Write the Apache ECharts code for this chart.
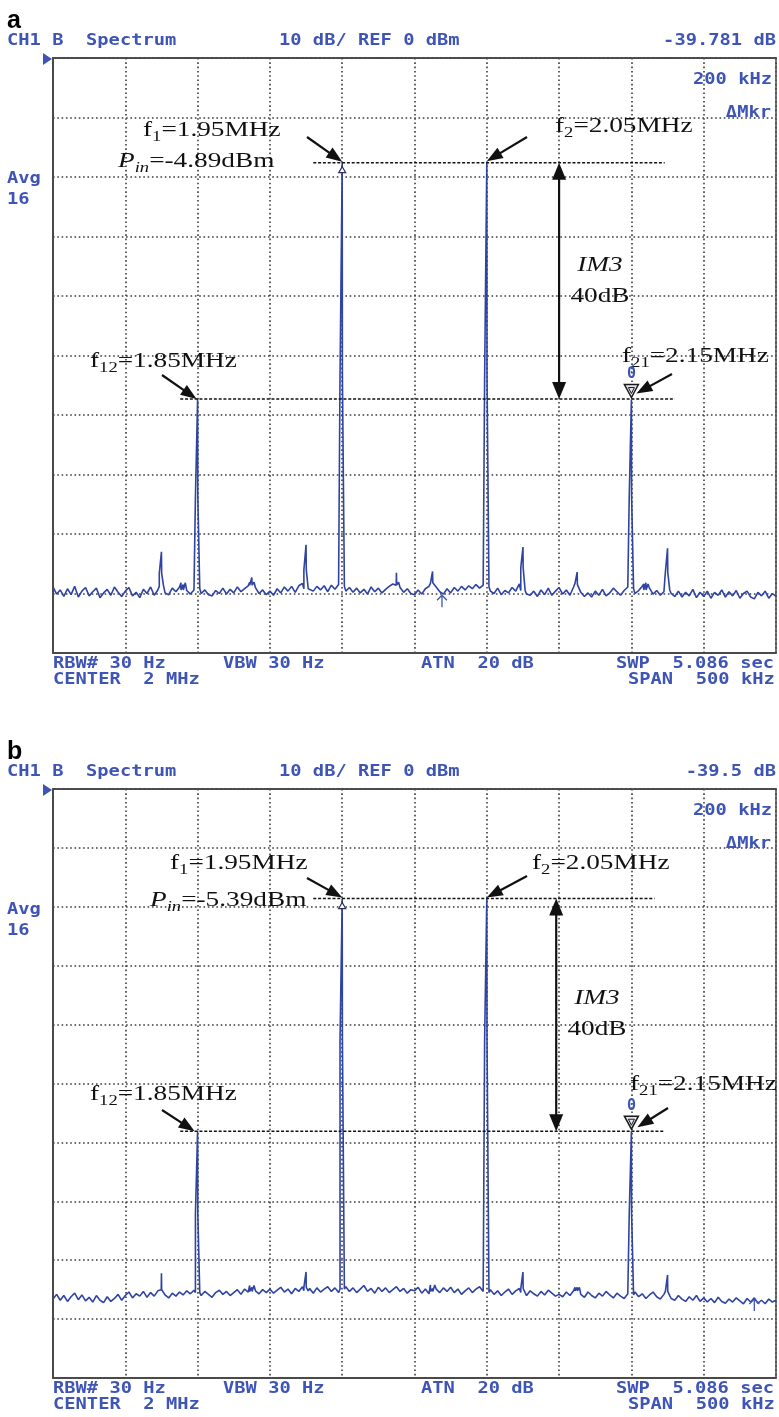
<!DOCTYPE html>
<html>
<head>
<meta charset="utf-8">
<script src="https://cdn.jsdelivr.net/npm/echarts@6/dist/echarts.min.js"></script>
<style>
  html, body { margin: 0; padding: 0; background: #fff; }
  #chart { width: 779px; height: 1417px; }
</style>
</head>
<body>
<div id="chart"></div>
<script>
// ---- Sweep settings: center 2 MHz, span 500 kHz, 2.5 kHz trace bins ----
const SWEEP_START_KHZ = 1750;
const SWEEP_STOP_KHZ = 2250;
const SWEEP_STEP_KHZ = 2.5;
const FREQ_DIV_KHZ = 50;          // 10 divisions across
const REF_LEVEL_DBM = 0;          // 10 dB/div, REF 0 dBm
const BOTTOM_LEVEL_DBM = -100;
const LEVEL_DIV_DB = 10;

// ---- Panel a: averaged noise floor (dBm), one value per bin ----
const noiseA = [
  -88.9,-90.1,-89.4,-90.5,-89.2,-90.2,-88.8,-90.6,-89.6,-89.0,-90.4,-89.7,-89.1,-90.7,-89.9,-89.3,-90.3,-88.9,-89.8,-90.5,
  -89.6,-89.0,-90.4,-89.8,-90.7,-89.3,-90.0,-88.9,-90.3,-89.4,-88.8,-89.9,-90.2,-89.1,-89.7,-88.9,-88.2,-89.5,-90.1,-89.4,
  -89.2,-90.0,-89.4,-90.2,-90.4,-89.5,-90.0,-89.1,-90.1,-89.3,-89.9,-88.9,-89.7,-89.2,-88.7,-88.1,-89.0,-90.0,-89.4,-90.2,
  -89.6,-90.3,-89.2,-89.9,-88.9,-89.6,-88.8,-89.8,-88.7,-88.3,-89.2,-88.9,-89.6,-88.8,-89.4,-88.7,-89.7,-88.6,-89.3,-88.5,
  -88.8,-89.6,-89.0,-89.8,-89.1,-89.9,-89.3,-90.1,-88.9,-89.7,-89.1,-89.9,-89.3,-88.8,-88.4,-88.1,-89.0,-89.8,-89.2,-90.0,
  -90.2,-89.4,-90.1,-89.2,-88.8,-88.3,-88.9,-89.7,-90.1,-89.2,-89.9,-89.0,-89.6,-88.8,-89.4,-88.7,-89.2,-88.5,-89.1,-88.6,
  -88.9,-89.6,-90.0,-89.1,-90.2,-89.5,-89.9,-89.0,-89.6,-88.4,-89.5,-90.1,-90.3,-89.6,-90.5,-89.4,-90.2,-89.1,-90.3,-89.6,
  -89.0,-90.1,-89.4,-90.3,-88.9,-88.3,-89.8,-90.5,-89.9,-90.6,-89.6,-90.3,-89.3,-90.4,-89.9,-89.1,-89.7,-90.3,-89.5,-88.9,
  -89.2,-90.0,-89.5,-88.8,-88.4,-89.1,-90.1,-89.5,-90.3,-89.7,-89.4,-90.0,-90.5,-89.6,-90.6,-89.8,-90.4,-89.3,-90.7,-89.8,
  -90.5,-89.6,-90.8,-89.8,-90.3,-89.4,-90.6,-89.7,-90.4,-89.5,-90.8,-90.0,-89.6,-90.6,-90.9,-89.8,-90.4,-89.6,-90.8,-90.0,-90.5
];
// Discrete tones in panel a: frequency (kHz), peak level and shoulder level (dBm)
const toneFreqA     = [1825, 1840, 1850, 1887.5, 1925, 1950, 1987.5, 2012.5, 2050, 2075, 2112.5, 2150, 2160, 2175];
const tonePeakA     = [-83.0, -88.5, -57.3, -87.3, -81.8, -17.6, -86.5, -86.3, -17.5, -82.2, -86.4, -57.4, -88.2, -82.4];
const toneShoulderA = [-86.6, -89.4, -73.8, -88.6, -86.0, -53.4, -88.6, -88.2, -53.6, -85.7, -88.5, -73.8, -89.4, -86.4];

// ---- Panel b ----
const noiseB = [
  -86.6,-85.8,-86.8,-86.0,-87.0,-86.2,-85.6,-86.7,-85.9,-86.9,-86.3,-87.1,-86.0,-86.8,-87.2,-86.2,-87.0,-86.5,-85.8,-86.8,
  -86.0,-85.4,-86.4,-85.7,-86.1,-85.3,-86.3,-85.5,-86.1,-85.2,-84.9,-85.9,-86.4,-85.6,-86.1,-85.4,-85.9,-85.2,-85.7,-85.1,
  -85.5,-86.0,-85.3,-85.8,-86.3,-85.5,-85.1,-85.8,-85.3,-86.0,-85.5,-85.0,-85.8,-84.9,-85.4,-84.3,-85.2,-85.7,-85.0,-85.5,
  -84.9,-85.6,-85.1,-84.6,-85.4,-84.9,-85.7,-84.8,-85.3,-84.5,-85.2,-84.8,-85.6,-84.7,-85.4,-84.9,-84.5,-85.3,-84.7,-85.5,
  -84.9,-84.5,-85.3,-84.7,-85.5,-84.9,-84.3,-85.3,-84.8,-85.6,-84.6,-85.3,-84.7,-85.5,-85.0,-84.5,-85.3,-84.8,-85.6,-85.0,
  -85.2,-84.6,-85.6,-84.9,-85.7,-84.2,-84.9,-85.5,-84.7,-85.3,-84.6,-85.5,-84.9,-85.8,-85.2,-84.7,-85.5,-84.9,-84.5,-85.3,
  -85.5,-85.0,-85.8,-85.2,-86.0,-85.4,-84.9,-85.8,-85.2,-84.8,-85.5,-86.0,-85.2,-85.7,-86.1,-85.3,-85.9,-85.1,-85.6,-86.1,
  -85.8,-86.2,-85.4,-86.0,-85.2,-84.6,-85.8,-86.3,-85.4,-86.0,-86.4,-85.6,-86.1,-85.3,-85.9,-86.4,-85.6,-86.1,-86.5,-85.7,
  -85.9,-85.4,-86.2,-85.7,-86.5,-85.9,-85.4,-86.2,-86.6,-85.8,-86.0,-86.5,-86.8,-86.0,-86.6,-87.0,-86.2,-86.8,-86.0,-87.0,
  -86.4,-87.1,-86.5,-87.2,-86.3,-87.0,-87.3,-86.6,-87.1,-86.4,-86.9,-87.4,-86.5,-87.1,-86.4,-87.3,-86.8,-87.4,-86.6,-87.1,-86.8
];
const toneFreqB     = [1825, 1850, 1887.5, 1925, 1950, 2012.5, 2050, 2075, 2112.5, 2150, 2175];
const tonePeakB     = [-82.2, -58.1, -84.6, -82.0, -18.6, -84.8, -18.6, -82.0, -84.6, -58.1, -82.5];
const toneShoulderB = [-85.0, -72.2, -85.3, -84.6, -42.5, -85.3, -42.5, -84.8, -85.2, -72.2, -85.3];

// ---- Instrument readouts ----
const headerA = ['CH1 B  Spectrum', '10 dB/ REF 0 dBm', '-39.781 dB'];
const headerB = ['CH1 B  Spectrum', '10 dB/ REF 0 dBm', '-39.5 dB'];
const sideLabels = ['200 kHz', '\u0394Mkr', 'Avg', '16'];
const footerTop = ['RBW# 30 Hz', 'VBW 30 Hz', 'ATN  20 dB', 'SWP  5.086 sec'];
const footerBottom = ['CENTER  2 MHz', 'SPAN  500 kHz'];

// ---- Annotation text ----
const pinTextA = '=-4.89dBm';
const pinTextB = '=-5.39dBm';

// ---- Styling ----
const TRACE = '#2f43a3';
const SCREEN_TEXT = '#3e55b6';
const FRAME = '#4a4a4a';
const GRID_DOT = '#3c3c3c';
const INK = '#111111';
const TONE_HALF_WIDTH_KHZ = 1.5;   // half width of a tone's skirt
const TONE_TIP_KHZ = 0.15;         // half width of a tone's tip

const panels = [
  { grid: { left: 53, top: 58, width: 723, height: 595 } },
  { grid: { left: 53, top: 789, width: 723, height: 589 } }
];

// Noise bins with each tone drawn as a narrow skirt (closed at the shoulder) and a thin tip
function buildTrace(noise, tf, tp, ts) {
  const out = [];
  for (let i = 0; i < noise.length; i++) {
    const f = SWEEP_START_KHZ + i * SWEEP_STEP_KHZ;
    const j = tf.findIndex(t => Math.abs(t - f) < SWEEP_STEP_KHZ / 2);
    if (j < 0) { out.push([f, noise[i]]); continue; }
    const t = tf[j], d = TONE_HALF_WIDTH_KHZ, e = TONE_TIP_KHZ, fl = noise[i];
    out.push([t - d, fl], [t - d, ts[j]], [t - e, ts[j]], [t, tp[j]], [t + e, ts[j]], [t + d, ts[j]], [t + d, fl]);
  }
  return out;
}

const traceA = buildTrace(noiseA, toneFreqA, tonePeakA, toneShoulderA);
const traceB = buildTrace(noiseB, toneFreqB, tonePeakB, toneShoulderB);

const DOT = [1.6, 2.7];
const xAxes = [], yAxes = [];
panels.forEach((p, g) => {
  xAxes.push({
    gridIndex: g, type: 'value', min: SWEEP_START_KHZ, max: SWEEP_STOP_KHZ, interval: FREQ_DIV_KHZ,
    position: 'bottom',
    axisLine: { show: true, onZero: false, lineStyle: { color: FRAME, width: 2 } },
    axisTick: { show: false }, axisLabel: { show: false },
    splitLine: { show: true, lineStyle: { color: GRID_DOT, width: 1.6, type: DOT } }
  });
  xAxes.push({
    gridIndex: g, type: 'value', min: SWEEP_START_KHZ, max: SWEEP_STOP_KHZ, interval: FREQ_DIV_KHZ,
    position: 'top',
    axisLine: { show: true, onZero: false, lineStyle: { color: FRAME, width: 2, type: [3, 1.5] } },
    axisTick: { show: false }, axisLabel: { show: false }, splitLine: { show: false }
  });
  yAxes.push({
    gridIndex: g, type: 'value', min: BOTTOM_LEVEL_DBM, max: REF_LEVEL_DBM, interval: LEVEL_DIV_DB,
    position: 'left',
    axisLine: { show: true, onZero: false, lineStyle: { color: FRAME, width: 2 } },
    axisTick: { show: false }, axisLabel: { show: false },
    splitLine: { show: true, lineStyle: { color: GRID_DOT, width: 1.6, type: DOT } }
  });
  yAxes.push({
    gridIndex: g, type: 'value', min: BOTTOM_LEVEL_DBM, max: REF_LEVEL_DBM, interval: LEVEL_DIV_DB,
    position: 'right',
    axisLine: { show: true, onZero: false, lineStyle: { color: FRAME, width: 1.5 } },
    axisTick: { show: false }, axisLabel: { show: false }, splitLine: { show: false }
  });
});

const chart = echarts.init(document.getElementById('chart'), null, { renderer: 'canvas', width: 779, height: 1417 });
chart.setOption({
  animation: false,
  backgroundColor: '#ffffff',
  grid: panels.map(p => Object.assign({ containLabel: false }, p.grid)),
  xAxis: xAxes,
  yAxis: yAxes,
  series: [
    { type: 'line', xAxisIndex: 0, yAxisIndex: 0, data: traceA, symbol: 'none', silent: true,
      lineStyle: { color: TRACE, width: 1.6 }, z: 3 },
    { type: 'line', xAxisIndex: 2, yAxisIndex: 2, data: traceB, symbol: 'none', silent: true,
      lineStyle: { color: TRACE, width: 1.6 }, z: 3 }
  ]
});

// ---------- annotation helpers ----------
const measureCtx = document.createElement('canvas').getContext('2d');
function textW(str, font) { measureCtx.font = font; return measureCtx.measureText(str).width; }

const MONO_FONT = 'bold 15px "DejaVu Sans Mono"';
const MONO_STRETCH = 1.25;
function mono(x, y, text, align) {
  return { type: 'text', x: x, y: y, scaleX: MONO_STRETCH, z: 100, silent: true,
    style: { text: text, font: MONO_FONT, fill: SCREEN_TEXT, align: align || 'left', verticalAlign: 'middle' } };
}

const SERIF = '"Liberation Serif", "Times New Roman", serif';
const MAIN_SIZE = 22, SUB_SIZE = 15, SUB_DROP = 5, SERIF_STRETCH = 1.24;
function serif(x, baseline, parts, align) {
  let cx = 0;
  const kids = parts.map(p => {
    const size = p.sub ? SUB_SIZE : MAIN_SIZE;
    const font = (p.it ? 'italic ' : '') + size + 'px ' + SERIF;
    const el = { type: 'text', x: cx, y: (p.sub ? SUB_DROP : 0) - 0.3 * size, z: 100, silent: true,
      style: { text: p.t, font: font, fill: INK, align: 'left', verticalAlign: 'middle' } };
    cx += textW(p.t, font);
    return el;
  });
  const w = cx * SERIF_STRETCH;
  const gx = align === 'center' ? x - w / 2 : x;
  return { type: 'group', x: gx, y: baseline, scaleX: SERIF_STRETCH, z: 100, children: kids };
}

function arrowHead(tip, ux, uy, len, wid) {
  const bx = tip[0] - ux * len, by = tip[1] - uy * len;
  const px = -uy * wid / 2, py = ux * wid / 2;
  return { type: 'polygon', z: 101, silent: true,
    shape: { points: [tip, [bx + px, by + py], [bx - px, by - py]] }, style: { fill: INK } };
}
function arrow(from, to, len, wid) {
  const dx = to[0] - from[0], dy = to[1] - from[1], L = Math.hypot(dx, dy);
  const ux = dx / L, uy = dy / L;
  return [
    { type: 'line', z: 101, silent: true,
      shape: { x1: from[0], y1: from[1], x2: to[0] - ux * len * 0.7, y2: to[1] - uy * len * 0.7 },
      style: { stroke: INK, lineWidth: 2.2 } },
    arrowHead(to, ux, uy, len, wid)
  ];
}
function doubleArrow(x, y1, y2, len, wid) {
  return [
    { type: 'line', z: 101, silent: true,
      shape: { x1: x, y1: y1 + len * 0.7, x2: x, y2: y2 - len * 0.7 }, style: { stroke: INK, lineWidth: 2.2 } },
    arrowHead([x, y1], 0, -1, len, wid),
    arrowHead([x, y2], 0, 1, len, wid)
  ];
}
function dashed(x1, x2, y) {
  return { type: 'line', z: 99, silent: true, shape: { x1: x1, y1: y, x2: x2, y2: y },
    style: { stroke: INK, lineWidth: 1.6, lineDash: [3, 1.8] } };
}

function px(series, f, lvl) { return chart.convertToPixel({ seriesIndex: series }, [f, lvl]); }
function toneAt(tf, tp, f) { return tp[tf.indexOf(f)]; }

// Per-panel annotation layout
const annot = [
  {
    series: 0, letter: 'a', header: headerA, tf: toneFreqA, tp: tonePeakA, pin: pinTextA,
    f1Label: [143, 137], pinLabel: [118, 168], f2Label: [555, 133], f12Label: [90, 368], f21Label: [622, 363],
    im3Label: [600, 272], dbLabel: [600, 303],
    f1Tail: [307, 137], f2Tail: [527, 137], f12Tail: [162, 375], f21Tail: [672, 374],
    f21HeadOffset: [5, -6], f12HeadOffset: [-1, 0],
    topLine: [1930, 2173], bottomLine: [1838, 2180], im3Freq: 2100,
    upMarker: [2019, -90.3]
  },
  {
    series: 1, letter: 'b', header: headerB, tf: toneFreqB, tp: tonePeakB, pin: pinTextB,
    f1Label: [170, 870], pinLabel: [150, 907], f2Label: [532, 870], f12Label: [90, 1101], f21Label: [630, 1091],
    im3Label: [597, 1005], dbLabel: [597, 1036],
    f1Tail: [307, 878], f2Tail: [527, 876], f12Tail: [162, 1110], f21Tail: [668, 1108],
    f21HeadOffset: [6, -4], f12HeadOffset: [-3, 0],
    topLine: [1930, 2166], bottomLine: [1838, 2173], im3Freq: 2098,
    upMarker: [2235, -86.6]
  }
];

const graphics = [];
annot.forEach((a, k) => {
  const g = panels[k].grid;
  const top = g.top, bottom = g.top + g.height, right = g.left + g.width;

  // panel letter
  graphics.push({ type: 'text', x: 7, y: top - 37, z: 100, silent: true,
    style: { text: a.letter, font: 'bold 25px "Liberation Sans", Arial, sans-serif', fill: '#000', align: 'left', verticalAlign: 'middle' } });

  // screen readouts
  graphics.push(mono(7, top - 16.5, a.header[0]));
  graphics.push(mono(279, top - 16.5, a.header[1]));
  graphics.push(mono(right, top - 16.5, a.header[2], 'right'));
  graphics.push(mono(772, top + 22, sideLabels[0], 'right'));
  graphics.push(mono(771, top + 55, sideLabels[1], 'right'));
  graphics.push(mono(7, top + 121, sideLabels[2]));
  graphics.push(mono(7, top + 142, sideLabels[3]));
  graphics.push(mono(53, bottom + 11, footerTop[0]));
  graphics.push(mono(223, bottom + 11, footerTop[1]));
  graphics.push(mono(421, bottom + 11, footerTop[2]));
  graphics.push(mono(616, bottom + 11, footerTop[3]));
  graphics.push(mono(53, bottom + 27, footerBottom[0]));
  graphics.push(mono(628, bottom + 27, footerBottom[1]));

  // reference-level pointer
  graphics.push({ type: 'polygon', z: 100, silent: true,
    shape: { points: [[43, top - 5], [52, top + 1], [43, top + 7]] }, style: { fill: SCREEN_TEXT } });

  // tone pixel positions
  const f12 = px(a.series, 1850, toneAt(a.tf, a.tp, 1850));
  const f1 = px(a.series, 1950, toneAt(a.tf, a.tp, 1950));
  const f2 = px(a.series, 2050, toneAt(a.tf, a.tp, 2050));
  const f21 = px(a.series, 2150, toneAt(a.tf, a.tp, 2150));

  // reference level lines
  const tl = [px(a.series, a.topLine[0], 0)[0], px(a.series, a.topLine[1], 0)[0]];
  const bl = [px(a.series, a.bottomLine[0], 0)[0], px(a.series, a.bottomLine[1], 0)[0]];
  graphics.push(dashed(tl[0], tl[1], f1[1]));
  graphics.push(dashed(bl[0], bl[1], f12[1]));

  // markers on the tones
  graphics.push({ type: 'polygon', z: 102, silent: true,
    shape: { points: [[f1[0] - 3.5, f1[1] + 10], [f1[0] + 3.5, f1[1] + 10], [f1[0], f1[1] + 4]] },
    style: { fill: '#ffffff', stroke: '#2b2f55', lineWidth: 1.2 } });
  graphics.push({ type: 'polygon', z: 102, silent: true,
    shape: { points: [[f21[0] - 7, f21[1] - 15], [f21[0] + 7, f21[1] - 15], [f21[0], f21[1] - 2]] },
    style: { fill: '#e4e6ef', stroke: '#1a1a1a', lineWidth: 1.5 } });
  graphics.push({ type: 'polygon', z: 103, silent: true,
    shape: { points: [[f21[0] - 3, f21[1] - 12], [f21[0] + 3, f21[1] - 12], [f21[0], f21[1] - 6]] },
    style: { fill: 'none', stroke: '#1a1a1a', lineWidth: 1 } });
  graphics.push({ type: 'text', x: f21[0], y: f21[1] - 25, z: 102, silent: true,
    style: { text: '0', font: MONO_FONT, fill: SCREEN_TEXT, align: 'center', verticalAlign: 'middle' } });

  // small sweep pointer
  const up = px(a.series, a.upMarker[0], a.upMarker[1]);
  graphics.push({ type: 'polyline', z: 102, silent: true,
    shape: { points: [[up[0], up[1] + 12], [up[0], up[1]]] }, style: { stroke: SCREEN_TEXT, lineWidth: 1.3, fill: 'none' } });
  graphics.push({ type: 'polyline', z: 102, silent: true,
    shape: { points: [[up[0] - 5, up[1] + 5], [up[0], up[1]], [up[0] + 5, up[1] + 5]] }, style: { stroke: SCREEN_TEXT, lineWidth: 1.3, fill: 'none' } });

  // labels
  graphics.push(serif(a.f1Label[0], a.f1Label[1], [{ t: 'f' }, { t: '1', sub: true }, { t: '=1.95MHz' }]));
  graphics.push(serif(a.pinLabel[0], a.pinLabel[1], [{ t: 'P', it: true }, { t: 'in', sub: true, it: true }, { t: a.pin }]));
  graphics.push(serif(a.f2Label[0], a.f2Label[1], [{ t: 'f' }, { t: '2', sub: true }, { t: '=2.05MHz' }]));
  graphics.push(serif(a.f12Label[0], a.f12Label[1], [{ t: 'f' }, { t: '12', sub: true }, { t: '=1.85MHz' }]));
  graphics.push(serif(a.f21Label[0], a.f21Label[1], [{ t: 'f' }, { t: '21', sub: true }, { t: '=2.15MHz' }]));
  graphics.push(serif(a.im3Label[0], a.im3Label[1], [{ t: 'IM3', it: true }], 'center'));
  graphics.push(serif(a.dbLabel[0], a.dbLabel[1], [{ t: '40dB' }], 'center'));

  // arrows
  arrow(a.f1Tail, [f1[0], f1[1] - 1], 16, 12).forEach(e => graphics.push(e));
  arrow(a.f2Tail, [f2[0], f2[1] - 1], 16, 12).forEach(e => graphics.push(e));
  arrow(a.f12Tail, [f12[0] + a.f12HeadOffset[0], f12[1] + a.f12HeadOffset[1]], 16, 12).forEach(e => graphics.push(e));
  arrow(a.f21Tail, [f21[0] + a.f21HeadOffset[0], f21[1] + a.f21HeadOffset[1]], 16, 12).forEach(e => graphics.push(e));
  const im3x = px(a.series, a.im3Freq, 0)[0];
  doubleArrow(im3x, f1[1], f12[1], 17, 14).forEach(e => graphics.push(e));
});

chart.setOption({ graphic: { elements: graphics } });
</script>
</body>
</html>
